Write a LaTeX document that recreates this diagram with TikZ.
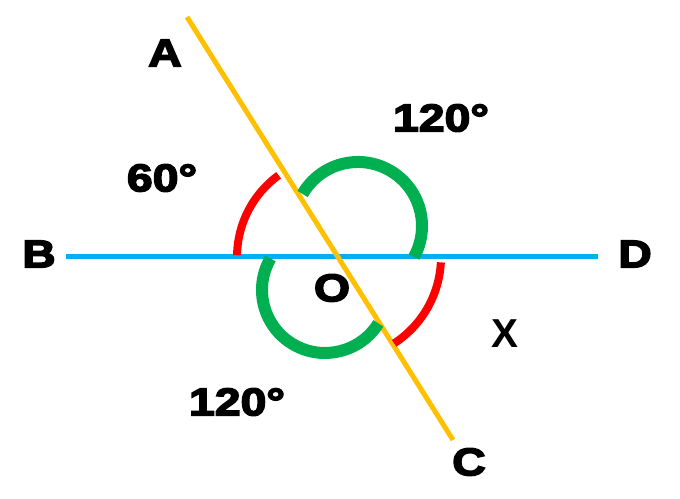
\documentclass[tikz,border=0pt]{standalone}
\usepackage{fontspec}
\usepackage{xcolor}
\usepackage{tikz}
\usetikzlibrary{positioning, calc}
\newfontfamily\labelfont{Liberation Sans}[BoldFeatures={FakeBold=4,FakeStretch=1.2}]
\newfontfamily\plainlabelfont{Liberation Sans}
\definecolor{lineblue}{RGB}{0, 176, 240}
\definecolor{lineorange}{RGB}{255, 192, 0}
\definecolor{arcgreen}{RGB}{0, 176, 80}
\definecolor{arcred}{RGB}{255, 0, 0}
\tikzset{
  ptlabel/.style={font=\labelfont\bfseries\fontsize{22}{26}\selectfont, inner sep=0pt},
  redarc/.style={arcred, line width=8*0.2mm},
  greenarc/.style={arcgreen, line width=12*0.2mm}
}

\begin{document}
\begin{tikzpicture}[x=0.2mm, y=0.2mm]
  \useasboundingbox (0,0) rectangle (680,499);

  \coordinate (O) at (338,242);
  \coordinate (b) at (66,242);
  \coordinate (d) at (598,242);
  \coordinate (a) at (187,482);
  \coordinate (c) at (453,59);

  \draw[lineblue, line width=5*0.2mm] (b) -- (d);
  \draw[lineorange, line width=5*0.2mm] (a) -- (c);

  % angle marks
  \draw[redarc] (O) ++(179:101) arc[start angle=179, end angle=126, radius=101];
  \draw[redarc] (O) ++(-3:103) arc[start angle=-3, end angle=-57, radius=103];
  \coordinate (gup) at (358,273);
  \draw[greenarc] (gup) ++(150:64) arc[start angle=150, end angle=-29, radius=64];
  \coordinate (glow) at (325,209);
  \draw[greenarc] (glow) ++(150:63) arc[start angle=150, end angle=328, radius=63];

  \node[ptlabel] (labA) at (165,446) {A};
  \node[ptlabel] (labB) at (39,245) {B};
  \node[ptlabel] (labC) at (469,37) {C};
  \node[ptlabel] (labD) at (635,245) {D};
  \node[ptlabel] (labO) at (332,211) {O};
  \node[ptlabel] (ang60) at (162,321) {60\textdegree};
  \node[ptlabel] (ang120up) at (441,381) {120\textdegree};
  \node[ptlabel] (ang120low) at (237,97) {120\textdegree};
  \node[font=\plainlabelfont\bfseries\fontsize{23}{27}\selectfont, inner sep=0pt] (labX) at (505,165) {X};
\end{tikzpicture}
\end{document}
